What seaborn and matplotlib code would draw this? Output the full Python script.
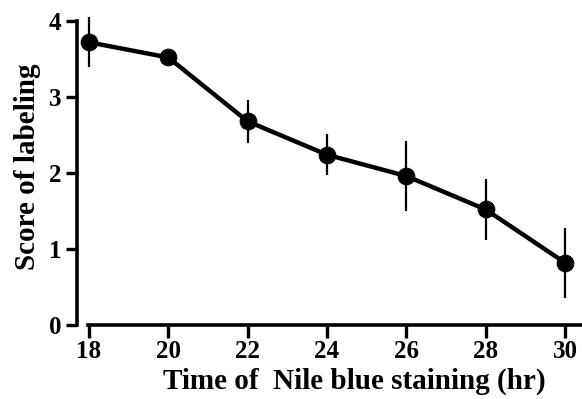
import matplotlib
matplotlib.use('Agg')
import matplotlib.pyplot as plt
import seaborn as sns
import pandas as pd

# values
hours = [18, 20, 22, 24, 26, 28, 30]
score = [3.72, 3.52, 2.68, 2.24, 1.96, 1.52, 0.82]
score_err = [0.33, 0.08, 0.28, 0.27, 0.46, 0.40, 0.46]
y_ticks = [0, 1, 2, 3, 4]

sns.set_style('ticks', {'axes.edgecolor': 'black', 'xtick.color': 'black',
                        'ytick.color': 'black', 'text.color': 'black',
                        'axes.labelcolor': 'black'})
plt.rcParams['font.family'] = ['Liberation Serif', 'DejaVu Serif']
plt.rcParams['font.weight'] = 'bold'

df = pd.DataFrame({'hours': hours, 'score': score, 'err': score_err})

fig = plt.figure(figsize=(5.82, 3.99), dpi=100)
ax = fig.add_axes([0.1323, 0.1855, 0.8677, 0.80])

ax.errorbar(df['hours'], df['score'], yerr=df['err'], fmt='none',
            ecolor='black', elinewidth=1.6, capsize=0, zorder=2)
sns.lineplot(data=df, x='hours', y='score', ax=ax, color='black',
             linewidth=3.2, marker='o', markersize=12, markeredgecolor='black',
             zorder=3)

ax.set_xlim(17.70, 30.43)
ax.set_ylim(0, 4.2)
ax.set_xticks(hours)
ax.set_yticks(y_ticks)

for side in ['top', 'right']:
    ax.spines[side].set_visible(False)
ax.spines['left'].set_bounds(0, 4)
ax.spines['bottom'].set_bounds(17.97, 30.43)
for side in ['left', 'bottom']:
    ax.spines[side].set_linewidth(2.6)
    ax.spines[side].set_color('black')

ax.tick_params(axis='y', length=8, width=2.4, labelsize=18, pad=3, colors='black')
ax.tick_params(axis='x', length=9, width=2.4, labelsize=18, pad=2, colors='black')
for lab in ax.get_xticklabels() + ax.get_yticklabels():
    lab.set_fontweight('bold')

ax.set_xlabel('Time of  Nile blue staining (hr)', fontsize=21, fontweight='bold', color='black')
ax.set_ylabel('Score of labeling', fontsize=21, fontweight='bold', color='black')
ax.xaxis.set_label_coords(0.55, -0.135)
ax.yaxis.set_label_coords(-0.072, 0.495)

fig.savefig('out.png', dpi=100)
